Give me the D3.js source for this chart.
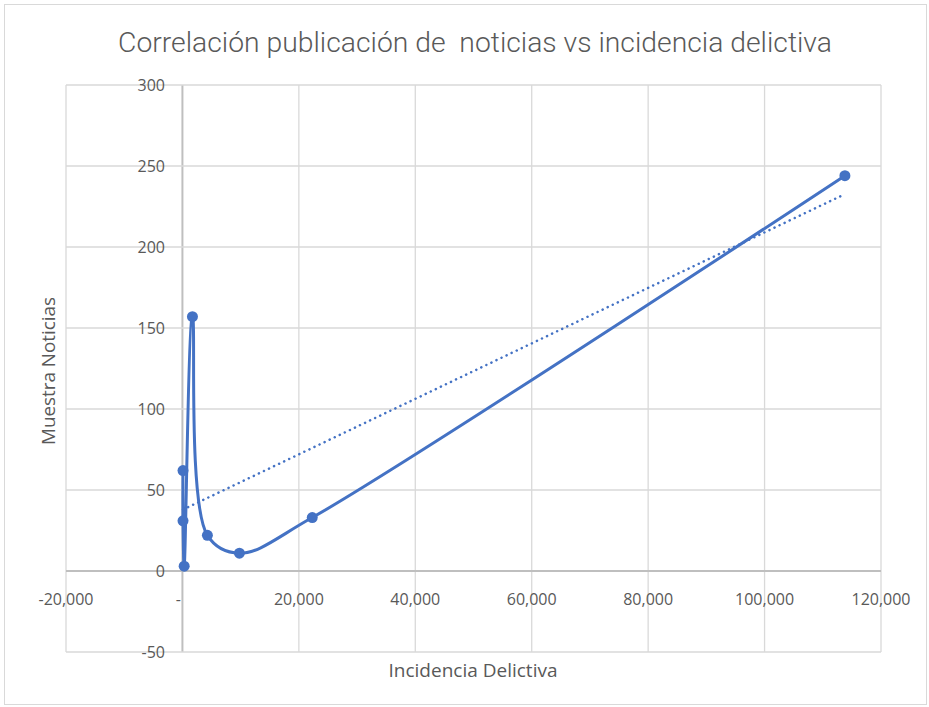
<!DOCTYPE html>
<html><head><meta charset="utf-8">
<script src="https://cdn.jsdelivr.net/npm/d3@7"></script>
<style>body{margin:0;background:#fff;} text{font-family:"Open Sans","Noto Sans",sans-serif;white-space:pre;}</style>
</head><body>
<svg id="c" width="929" height="707"></svg>
<script>
const incidencia = [100, 100, 300, 1720, 4290, 9790, 22300, 113800];
const noticias   = [62, 31, 3, 157, 22, 11, 33, 244];
const xTicks = [-20000, 0, 20000, 40000, 60000, 80000, 100000, 120000];
const yTicks = [-50, 0, 50, 100, 150, 200, 250, 300];
const title = "Correlación publicación de  noticias vs incidencia delictiva";
const xTitle = "Incidencia Delictiva";
const yTitle = "Muestra Noticias";

const svg = d3.select("#c");
svg.append("rect").attr("x",4.5).attr("y",4.5).attr("width",922).attr("height",700)
  .attr("fill","#fff").attr("stroke","#d9d9d9");

const x = d3.scaleLinear().domain([-20000,120000]).range([66,881]);
const y = d3.scaleLinear().domain([-50,300]).range([652,85]);

// grid
const g = svg.append("g");
g.selectAll(".vg").data(xTicks).join("line")
  .attr("x1",d=>x(d)).attr("x2",d=>x(d)).attr("y1",y(300)).attr("y2",y(-50))
  .attr("stroke",d=>d===0?"#bfbfbf":"#d9d9d9").attr("stroke-width",d=>d===0?2:1.3);
g.selectAll(".hg").data(yTicks).join("line")
  .attr("y1",d=>y(d)).attr("y2",d=>y(d)).attr("x1",x(-20000)).attr("x2",x(120000))
  .attr("stroke",d=>d===0?"#bfbfbf":"#d9d9d9").attr("stroke-width",d=>d===0?2:1.3);

// tick labels
const fmt = d => d3.format(",")(d).replace("\u2212","-");
svg.append("g").selectAll("text").data(xTicks).join("text")
  .attr("x",d=>d===0?x(d)-4:x(d)).attr("y",605).attr("text-anchor","middle")
  .attr("font-size",16).attr("fill","#595959").text(d=>d===0?"-":fmt(d));
svg.append("g").selectAll("text").data(yTicks).join("text")
  .attr("x",165).attr("y",d=>y(d)+6).attr("text-anchor","end")
  .attr("font-size",16).attr("fill","#595959").text(d=>fmt(d));

// trendline (least squares)
const n = incidencia.length;
const mx = d3.mean(incidencia), my = d3.mean(noticias);
let sxy=0,sxx=0;
for(let i=0;i<n;i++){sxy+=(incidencia[i]-mx)*(noticias[i]-my);sxx+=(incidencia[i]-mx)**2;}
const slope = sxy/sxx, icpt = my - slope*mx;
const x0 = d3.min(incidencia), x1 = d3.max(incidencia);
svg.append("line").attr("x1",x(x0)).attr("y1",y(icpt+slope*x0))
  .attr("x2",x(x1)).attr("y2",y(icpt+slope*x1))
  .attr("stroke","#4472C4").attr("stroke-width",2.5).attr("stroke-dasharray","0.1,5.5")
  .attr("stroke-linecap","round");

// series
const pts = incidencia.map((v,i)=>[v,noticias[i]]);
const line = d3.line().x(d=>x(d[0])).y(d=>y(d[1])).curve(d3.curveCatmullRom.alpha(0.5));
svg.append("path").attr("d",line(pts)).attr("fill","none")
  .attr("stroke","#4472C4").attr("stroke-width",3).attr("stroke-linejoin","round");
svg.append("g").selectAll("circle").data(pts).join("circle")
  .attr("cx",d=>x(d[0])).attr("cy",d=>y(d[1])).attr("r",5.5).attr("fill","#4472C4");

// titles
const t = svg.append("text").attr("x",475).attr("y",52).attr("text-anchor","middle")
  .style("font-family","Roboto, 'Open Sans', sans-serif").attr("font-weight",300)
  .attr("font-size",24).attr("fill","#595959").text(title);
const tw = t.node().getComputedTextLength();
t.attr("font-size",24*714/tw);
const xt = svg.append("text").attr("x",473).attr("y",677).attr("text-anchor","middle")
  .attr("font-size",16).attr("fill","#595959").text(xTitle);
xt.attr("font-size",16*169/xt.node().getComputedTextLength());
const yt = svg.append("text").attr("transform","translate(55,371) rotate(-90)").attr("text-anchor","middle")
  .attr("font-size",16).attr("fill","#595959").text(yTitle);
yt.attr("font-size",16*148/yt.node().getComputedTextLength());
</script>
</body></html>
